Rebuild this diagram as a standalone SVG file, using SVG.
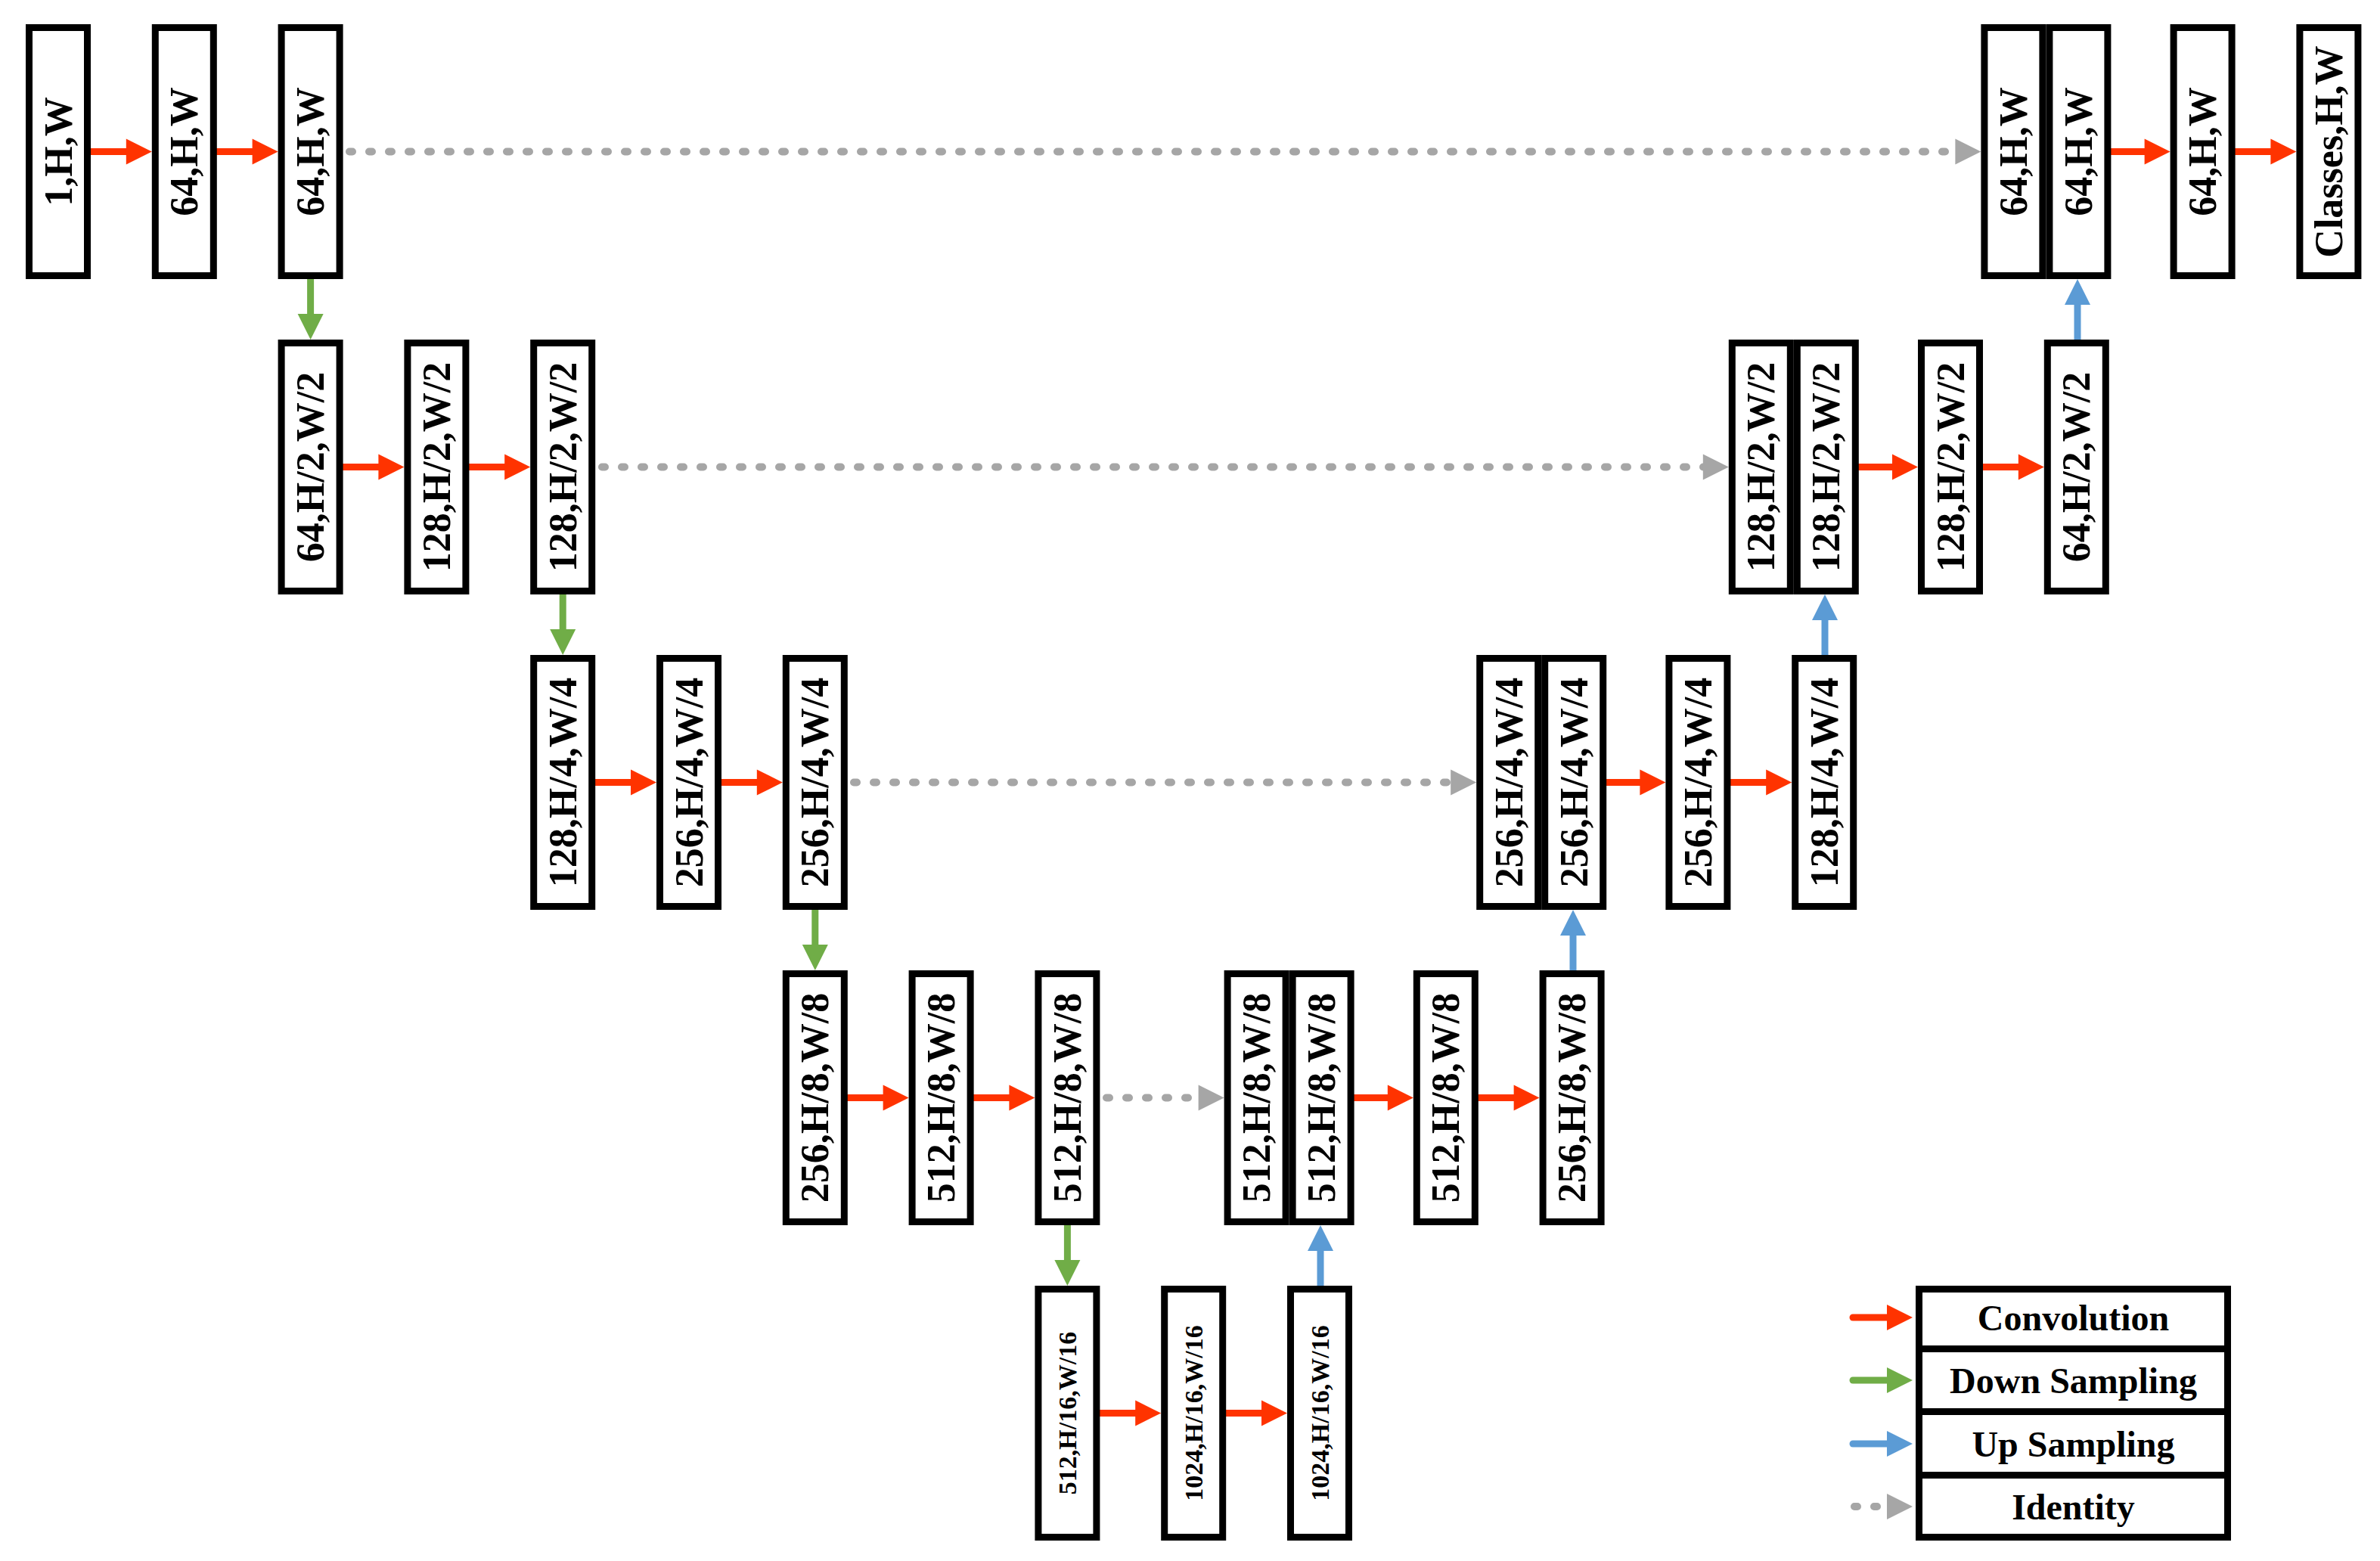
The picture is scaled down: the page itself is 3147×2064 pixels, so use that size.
<svg xmlns="http://www.w3.org/2000/svg" width="3147" height="2064" viewBox="0 0 3147 2064">
<style>
.b{fill:#fff;stroke:#000;stroke-width:9}
.t{font-family:"Liberation Serif","Times New Roman",serif;font-weight:bold;font-size:52px;text-anchor:middle;dominant-baseline:central}
.s{font-size:34px}
.lt{font-family:"Liberation Serif","Times New Roman",serif;font-weight:bold;font-size:48px;text-anchor:middle;dominant-baseline:central}
.c{stroke:#FF3300;stroke-width:9;stroke-linecap:round;fill:none;marker-end:url(#mr)}
.d{stroke:#70AD47;stroke-width:9;stroke-linecap:round;fill:none;marker-end:url(#mg)}
.u{stroke:#5B9BD5;stroke-width:9;stroke-linecap:round;fill:none;marker-end:url(#mb)}
.i{stroke:#A6A6A6;stroke-width:10;stroke-linecap:round;stroke-dasharray:4 22;fill:none;marker-end:url(#my)}
</style>
<defs>
<marker id="mr" markerUnits="userSpaceOnUse" markerWidth="36" markerHeight="36" refX="4" refY="17" orient="auto" overflow="visible"><path d="M0,0 L34,17 L0,34 z" fill="#FF3300"/></marker>
<marker id="mg" markerUnits="userSpaceOnUse" markerWidth="36" markerHeight="36" refX="4" refY="17" orient="auto" overflow="visible"><path d="M0,0 L34,17 L0,34 z" fill="#70AD47"/></marker>
<marker id="mb" markerUnits="userSpaceOnUse" markerWidth="36" markerHeight="36" refX="4" refY="17" orient="auto" overflow="visible"><path d="M0,0 L34,17 L0,34 z" fill="#5B9BD5"/></marker>
<marker id="my" markerUnits="userSpaceOnUse" markerWidth="36" markerHeight="36" refX="4" refY="17" orient="auto" overflow="visible"><path d="M0,0 L34,17 L0,34 z" fill="#A6A6A6"/></marker>
</defs>
<rect width="3147" height="2064" fill="#fff"/>
<g id="connectors">
<line class="c" x1="120" y1="200.5" x2="170.8" y2="200.5"/>
<line class="c" x1="286.8" y1="200.5" x2="337.6" y2="200.5"/>
<line class="i" x1="462" y1="200.5" x2="2589.4" y2="200.5"/>
<line class="c" x1="2791.4" y1="200.5" x2="2839.6" y2="200.5"/>
<line class="c" x1="2955.6" y1="200.5" x2="3006.4" y2="200.5"/>
<line class="d" x1="410.6" y1="369" x2="410.6" y2="419"/>
<line class="c" x1="453.6" y1="617.5" x2="504.4" y2="617.5"/>
<line class="c" x1="620.4" y1="617.5" x2="671.2" y2="617.5"/>
<line class="i" x1="796" y1="617.5" x2="2255.8" y2="617.5"/>
<line class="c" x1="2457.8" y1="617.5" x2="2506" y2="617.5"/>
<line class="c" x1="2622" y1="617.5" x2="2672.8" y2="617.5"/>
<line class="u" x1="2747" y1="449" x2="2747" y2="399"/>
<line class="d" x1="744.2" y1="786" x2="744.2" y2="836"/>
<line class="c" x1="787.2" y1="1034.5" x2="838" y2="1034.5"/>
<line class="c" x1="954" y1="1034.5" x2="1004.8" y2="1034.5"/>
<line class="i" x1="1129" y1="1034.5" x2="1922.2" y2="1034.5"/>
<line class="c" x1="2124.2" y1="1034.5" x2="2172.4" y2="1034.5"/>
<line class="c" x1="2288.4" y1="1034.5" x2="2339.2" y2="1034.5"/>
<line class="u" x1="2413" y1="866" x2="2413" y2="816"/>
<line class="d" x1="1077.8" y1="1203" x2="1077.8" y2="1253"/>
<line class="c" x1="1120.8" y1="1451.5" x2="1171.6" y2="1451.5"/>
<line class="c" x1="1287.6" y1="1451.5" x2="1338.4" y2="1451.5"/>
<line class="i" x1="1463" y1="1451.5" x2="1588.6" y2="1451.5"/>
<line class="c" x1="1790.6" y1="1451.5" x2="1838.8" y2="1451.5"/>
<line class="c" x1="1954.8" y1="1451.5" x2="2005.6" y2="1451.5"/>
<line class="u" x1="2080" y1="1283" x2="2080" y2="1233"/>
<line class="d" x1="1411.4" y1="1620" x2="1411.4" y2="1670"/>
<line class="c" x1="1454.4" y1="1868.5" x2="1505.2" y2="1868.5"/>
<line class="c" x1="1621.2" y1="1868.5" x2="1672" y2="1868.5"/>
<line class="u" x1="1746" y1="1700" x2="1746" y2="1650"/>
<line class="c" x1="2450" y1="1742" x2="2499" y2="1742"/>
<line class="d" x1="2450" y1="1825" x2="2499" y2="1825"/>
<line class="u" x1="2450" y1="1909" x2="2499" y2="1909"/>
<line class="i" x1="2452" y1="1992" x2="2499" y2="1992"/>
</g>
<g id="r0c0"><rect class="b" x="38.5" y="36.5" width="77" height="328"/><text class="t" transform="translate(77,200.5) rotate(-90)">1,H,W</text></g>
<g id="r0c1"><rect class="b" x="205.3" y="36.5" width="77" height="328"/><text class="t" transform="translate(243.8,200.5) rotate(-90)">64,H,W</text></g>
<g id="r0c2"><rect class="b" x="372.1" y="36.5" width="77" height="328"/><text class="t" transform="translate(410.6,200.5) rotate(-90)">64,H,W</text></g>
<g id="r0p1"><rect class="b" x="2623.9" y="36.5" width="77" height="328"/><text class="t" transform="translate(2662.4,200.5) rotate(-90)">64,H,W</text></g>
<g id="r0p2"><rect class="b" x="2709.9" y="36.5" width="77" height="328"/><text class="t" transform="translate(2748.4,200.5) rotate(-90)">64,H,W</text></g>
<g id="r0c17"><rect class="b" x="2874.1" y="36.5" width="77" height="328"/><text class="t" transform="translate(2912.6,200.5) rotate(-90)">64,H,W</text></g>
<g id="r0c18"><rect class="b" x="3040.9" y="36.5" width="77" height="328"/><text class="t" transform="translate(3079.4,200.5) rotate(-90)">Classes,H,W</text></g>

<g id="r1c2"><rect class="b" x="372.1" y="453.5" width="77" height="328"/><text class="t" transform="translate(410.6,617.5) rotate(-90)">64,H/2,W/2</text></g>
<g id="r1c3"><rect class="b" x="538.9" y="453.5" width="77" height="328"/><text class="t" transform="translate(577.4,617.5) rotate(-90)">128,H/2,W/2</text></g>
<g id="r1c4"><rect class="b" x="705.7" y="453.5" width="77" height="328"/><text class="t" transform="translate(744.2,617.5) rotate(-90)">128,H/2,W/2</text></g>
<g id="r1p1"><rect class="b" x="2290.3" y="453.5" width="77" height="328"/><text class="t" transform="translate(2328.8,617.5) rotate(-90)">128,H/2,W/2</text></g>
<g id="r1p2"><rect class="b" x="2376.3" y="453.5" width="77" height="328"/><text class="t" transform="translate(2414.8,617.5) rotate(-90)">128,H/2,W/2</text></g>
<g id="r1c15"><rect class="b" x="2540.5" y="453.5" width="77" height="328"/><text class="t" transform="translate(2579,617.5) rotate(-90)">128,H/2,W/2</text></g>
<g id="r1c16"><rect class="b" x="2707.3" y="453.5" width="77" height="328"/><text class="t" transform="translate(2745.8,617.5) rotate(-90)">64,H/2,W/2</text></g>

<g id="r2c4"><rect class="b" x="705.7" y="870.5" width="77" height="328"/><text class="t" transform="translate(744.2,1034.5) rotate(-90)">128,H/4,W/4</text></g>
<g id="r2c5"><rect class="b" x="872.5" y="870.5" width="77" height="328"/><text class="t" transform="translate(911,1034.5) rotate(-90)">256,H/4,W/4</text></g>
<g id="r2c6"><rect class="b" x="1039.3" y="870.5" width="77" height="328"/><text class="t" transform="translate(1077.8,1034.5) rotate(-90)">256,H/4,W/4</text></g>
<g id="r2p1"><rect class="b" x="1956.7" y="870.5" width="77" height="328"/><text class="t" transform="translate(1995.2,1034.5) rotate(-90)">256,H/4,W/4</text></g>
<g id="r2p2"><rect class="b" x="2042.7" y="870.5" width="77" height="328"/><text class="t" transform="translate(2081.2,1034.5) rotate(-90)">256,H/4,W/4</text></g>
<g id="r2c13"><rect class="b" x="2206.9" y="870.5" width="77" height="328"/><text class="t" transform="translate(2245.4,1034.5) rotate(-90)">256,H/4,W/4</text></g>
<g id="r2c14"><rect class="b" x="2373.7" y="870.5" width="77" height="328"/><text class="t" transform="translate(2412.2,1034.5) rotate(-90)">128,H/4,W/4</text></g>

<g id="r3c6"><rect class="b" x="1039.3" y="1287.5" width="77" height="328"/><text class="t" transform="translate(1077.8,1451.5) rotate(-90)">256,H/8,W/8</text></g>
<g id="r3c7"><rect class="b" x="1206.1" y="1287.5" width="77" height="328"/><text class="t" transform="translate(1244.6,1451.5) rotate(-90)">512,H/8,W/8</text></g>
<g id="r3c8"><rect class="b" x="1372.9" y="1287.5" width="77" height="328"/><text class="t" transform="translate(1411.4,1451.5) rotate(-90)">512,H/8,W/8</text></g>
<g id="r3p1"><rect class="b" x="1623.1" y="1287.5" width="77" height="328"/><text class="t" transform="translate(1661.6,1451.5) rotate(-90)">512,H/8,W/8</text></g>
<g id="r3p2"><rect class="b" x="1709.1" y="1287.5" width="77" height="328"/><text class="t" transform="translate(1747.6,1451.5) rotate(-90)">512,H/8,W/8</text></g>
<g id="r3c11"><rect class="b" x="1873.3" y="1287.5" width="77" height="328"/><text class="t" transform="translate(1911.8,1451.5) rotate(-90)">512,H/8,W/8</text></g>
<g id="r3c12"><rect class="b" x="2040.1" y="1287.5" width="77" height="328"/><text class="t" transform="translate(2078.6,1451.5) rotate(-90)">256,H/8,W/8</text></g>

<g id="r4c8"><rect class="b" x="1372.9" y="1704.5" width="77" height="328"/><text class="t s" transform="translate(1411.4,1868.5) rotate(-90)">512,H/16,W/16</text></g>
<g id="r4c9"><rect class="b" x="1539.7" y="1704.5" width="77" height="328"/><text class="t s" transform="translate(1578.2,1868.5) rotate(-90)">1024,H/16,W/16</text></g>
<g id="r4c10"><rect class="b" x="1706.5" y="1704.5" width="77" height="328"/><text class="t s" transform="translate(1745,1868.5) rotate(-90)">1024,H/16,W/16</text></g>

<g id="legend">
<rect class="b" x="2537.5" y="1704.5" width="408" height="79"/><text class="lt" x="2741.5" y="1742">Convolution</text>
<rect class="b" x="2537.5" y="1783.5" width="408" height="83"/><text class="lt" x="2741.5" y="1825">Down Sampling</text>
<rect class="b" x="2537.5" y="1866.5" width="408" height="84"/><text class="lt" x="2741.5" y="1909">Up Sampling</text>
<rect class="b" x="2537.5" y="1950.5" width="408" height="82"/><text class="lt" x="2741.5" y="1992">Identity</text>
</g>
</svg>
